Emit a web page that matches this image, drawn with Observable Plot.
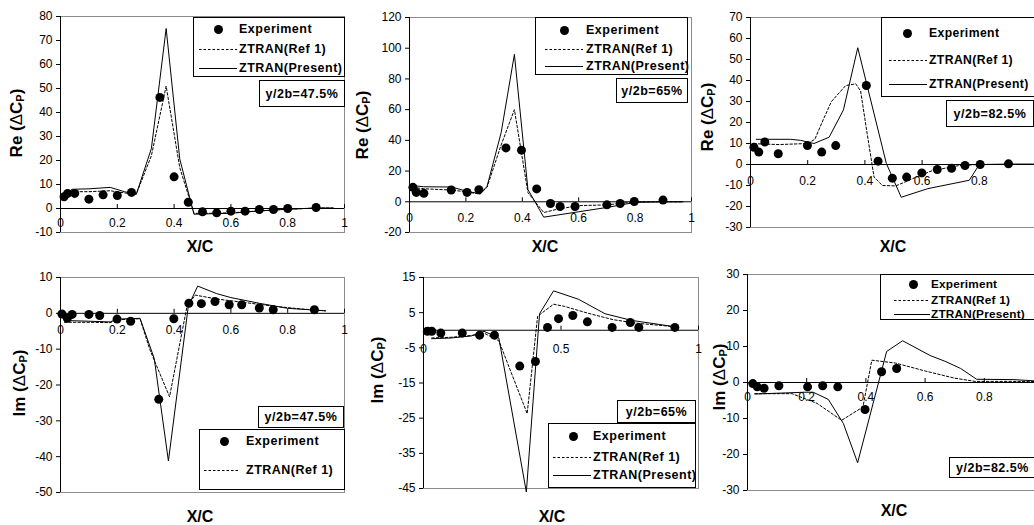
<!DOCTYPE html>
<html><head><meta charset="utf-8">
<script src="https://cdn.jsdelivr.net/npm/d3@7"></script>
<script src="https://cdn.jsdelivr.net/npm/@observablehq/plot@0.6"></script>
<style>
html,body{margin:0;padding:0;background:#fff;overflow:hidden}
#c{position:relative;width:1034px;height:525px;font-family:"Liberation Sans",Arial,sans-serif;color:#000;overflow:hidden}
.lab{position:absolute;font-weight:bold;font-size:16px;white-space:nowrap;transform:translate(-50%,-50%)}
.ylab{font-size:17px;transform:translate(-50%,-50%) rotate(-90deg)}
.box{position:absolute;border:1px solid #000;background:#fff;box-sizing:border-box}
.lt{position:absolute;font-weight:bold;font-size:12.5px;letter-spacing:0.5px;white-space:nowrap;transform:translateY(-50%);line-height:14px}
.bt{position:absolute;left:0;right:0;top:50%;transform:translateY(-50%);text-align:center;font-weight:bold;font-size:12.5px;letter-spacing:0.5px;white-space:nowrap;line-height:14px}
</style></head><body><div id="c"></div><script>
// ---------- data ----------
const seriesNames = ["Experiment", "ZTRAN(Ref 1)", "ZTRAN(Present)"];
const stationLabels = ["y/2b=47.5%", "y/2b=65%", "y/2b=82.5%"];
const xAxisTitle = "X/C";

// Panel 1: Re, y/2b=47.5%
const expX1 = [0.0125,0.025,0.05,0.1,0.15,0.2,0.25,0.35,0.4,0.45,0.5,0.55,0.6,0.65,0.7,0.75,0.8,0.9];
const expY1 = [4.9,6.3,6.3,3.9,5.7,5.4,6.7,46.3,13.2,2.6,-1.4,-1.8,-1.1,-1.1,-0.4,-0.4,0,0.4];
const presX1 = [0.01,0.04,0.1,0.175,0.225,0.267,0.32,0.372,0.42,0.47,0.525,0.6,0.7,0.8,0.9,0.96];
const presY1 = [5,8,8.2,8.8,7,6,25,75,20.6,-2.4,-2.2,-2,-1,-0.3,0.2,0.2];
const refX1 = [0.01,0.04,0.1,0.175,0.225,0.267,0.32,0.372,0.42,0.47,0.525,0.6,0.7,0.8,0.9,0.96];
const refY1 = [5,7,7,7.4,6.5,6,22,51,17,-2,-2,-1.8,-1,-0.3,0.2,0.2];

// Panel 2: Re, y/2b=65%
const expX2 = [0.012,0.024,0.051,0.148,0.204,0.246,0.342,0.397,0.451,0.5,0.534,0.587,0.7,0.747,0.797,0.899];
const expY2 = [9.4,6.1,5.5,7.7,6.1,7.9,35.1,33.6,8.4,-1.1,-3.1,-3.1,-2,-1.1,0.2,1.1];
const presX2 = [0.012,0.05,0.15,0.2,0.25,0.275,0.325,0.372,0.42,0.476,0.6,0.7,0.8,0.9,0.97];
const presY2 = [10.5,9.8,9.6,7,5.2,10,45,96,8,-10,-6.5,-3.7,-0.4,0,0];
const refX2 = [0.012,0.05,0.15,0.2,0.25,0.275,0.325,0.372,0.42,0.476,0.525,0.6,0.7,0.8,0.9,0.97];
const refY2 = [9.4,8.5,7.6,6.5,5,9.5,37,60,6,-7,-4.8,-2.5,-2,0,0,0];

// Panel 3: Re, y/2b=82.5%
const expX3 = [0.012,0.029,0.05,0.097,0.199,0.249,0.298,0.405,0.446,0.496,0.546,0.599,0.653,0.703,0.75,0.803,0.902];
const expY3 = [8.2,5.9,10.7,5.1,9.0,5.9,9.0,37.6,1.6,-6.5,-6.0,-4.0,-2.4,-1.8,-0.5,0,0.3];
const presX3 = [0.02,0.075,0.14,0.175,0.222,0.275,0.325,0.375,0.475,0.527,0.62,0.765,0.8,0.9,1];
const presY3 = [12,12,12,11.5,10,13,26,55.6,0.5,-15.6,-11.5,-7.5,0,0.2,0.2];
const refX3 = [0.012,0.1,0.2,0.225,0.25,0.283,0.333,0.368,0.385,0.408,0.432,0.461,0.508,0.566,0.636,0.729,0.8,0.9,1];
const refY3 = [9.9,9.5,10,12,20,30,37.6,38.4,35,14.6,-6,-10,-10.2,-6.8,-2.9,-0.5,0,0,0];

// Panel 4: Im, y/2b=47.5%
const expX4 = [0.005,0.024,0.041,0.1,0.138,0.199,0.247,0.346,0.399,0.452,0.496,0.544,0.594,0.638,0.7,0.749,0.894];
const expY4 = [-0.2,-1.4,-0.3,-0.3,-0.6,-1.6,-2.2,-24,-1.5,2.8,2.7,3.3,2.4,2.4,1.5,1.0,1.0];
const presX4 = [0.014,0.1,0.175,0.2,0.28,0.33,0.38,0.45,0.483,0.55,0.6,0.7,0.8,0.933];
const presY4 = [-2,-2.2,-2.4,-1.6,-1.4,-12.6,-41.2,2,7.6,5.5,4.4,2.8,1.4,0.7];
const refX4 = [0.014,0.1,0.175,0.2,0.28,0.315,0.384,0.445,0.474,0.55,0.65,0.75,0.85,0.933];
const refY4 = [-2.5,-2.5,-2.6,-1.8,-1.5,-10.2,-23.3,1.8,5.1,4,3,2,1.2,0.7];

// Panel 5: Im, y/2b=65%
const expX5 = [0.014,0.03,0.063,0.141,0.204,0.258,0.35,0.407,0.451,0.491,0.543,0.596,0.686,0.752,0.783,0.914];
const expY5 = [-0.3,-0.3,-0.8,-0.8,-1.4,-1.4,-10.2,-8.9,0.8,3.3,4.2,2.4,0.8,2.2,0.8,0.8];
const presX5 = [0.03,0.1,0.175,0.22,0.274,0.374,0.422,0.473,0.564,0.66,0.757,0.914];
const presY5 = [-2.4,-2.2,-1.6,-0.3,-2.2,-46,4.7,11.2,8.8,4.7,2.8,1];
const refX5 = [0.03,0.1,0.175,0.22,0.274,0.377,0.415,0.473,0.512,0.6,0.69,0.775,0.914];
const refY5 = [-2.2,-2,-1.5,-0.8,-3,-23.7,4,7.4,6.8,4.8,3.0,2.0,1];

// Panel 6: Im, y/2b=82.5%
const expX6 = [0.018,0.033,0.056,0.106,0.203,0.254,0.305,0.397,0.453,0.504];
const expY6 = [-0.3,-1.2,-1.6,-0.9,-1.2,-0.9,-1.2,-7.5,3.0,3.9];
const presX6 = [0.025,0.194,0.222,0.273,0.324,0.372,0.47,0.524,0.617,0.67,0.72,0.774,0.9,1];
const presY6 = [-3.2,-2.7,-2.7,-4.7,-11.4,-22.3,8.6,11.6,7.5,5.8,3.9,0.9,0.8,0.3];
const refX6 = [0.025,0.15,0.235,0.318,0.39,0.42,0.5,0.6,0.7,0.77,0.9,1];
const refY6 = [-3.1,-3.1,-5.8,-10.5,-6.8,6.2,5.4,3.2,1.2,0.3,0.3,0.3];

// axis ticks
const yTicks1 = [-10,0,10,20,30,40,50,60,70,80];
const yTicks2 = [-20,0,20,40,60,80,100,120];
const yTicks3 = [-30,-20,-10,0,10,20,30,40,50,60,70];
const yTicks4 = [-50,-40,-30,-20,-10,0,10];
const yTicks5 = [-45,-35,-25,-15,-5,5,15];
const yTicks6 = [-30,-20,-10,0,10,20,30];
const xTicksA = [0,0.2,0.4,0.6,0.8,1];
const xTickLabelsA = ["0","0.2","0.4","0.6","0.8","1"];
const xTicksB = [0,0.5,1];
const xTickLabelsB = ["0","0.5","1"];
const xTicksC = [0,0.2,0.4,0.6,0.8];
const xTickLabelsC = ["0","0.2","0.4","0.6","0.8"];

// ---------- layout (page pixels) ----------
const panels = [
  {part:"Re", station:0, frame:[60,16,344,232], yDomain:[-10,80], yTicks:yTicks1, xTicks:xTicksA, xLab:xTickLabelsA, xdy:15,
   exp:[expX1,expY1], ref:[refX1,refY1], pres:[presX1,presY1],
   ylab:[17,123], xlab:[200,247],
   legend:{box:[193,17,152,60], rows:[11,31,50], dot:24, line:[5,43], text:45, n:3},
   tag:[259,80,86,27]},
  {part:"Re", station:1, frame:[409,17,691,232], yDomain:[-20,120], yTicks:yTicks2, xTicks:xTicksA, xLab:xTickLabelsA, xdy:16,
   exp:[expX2,expY2], ref:[refX2,refY2], pres:[presX2,presY2],
   ylab:[363,125], xlab:[545,247],
   legend:{box:[535,17,153,58], rows:[12,31,48], dot:28, line:[9,47], text:50, n:3},
   tag:[616,78,72,25]},
  {part:"Re", station:2, frame:[750,17,1036,227], yDomain:[-30,70], yTicks:yTicks3, xTicks:xTicksC, xLab:xTickLabelsC, xdy:17,
   exp:[expX3,expY3], ref:[refX3,refY3], pres:[presX3,presY3],
   ylab:[708,117], xlab:[893,247],
   legend:{box:[881,17,156,80], rows:[15,42,66], dot:25, line:[7,45], text:47, n:3, font:"12.2px", ls:"0.4px"},
   tag:[946,100,88,27]},
  {part:"Im", station:0, frame:[60,277,344,492], yDomain:[-50,10], yTicks:yTicks4, xTicks:xTicksA, xLab:xTickLabelsA, xdy:17,
   exp:[expX4,expY4], ref:[refX4,refY4], pres:[presX4,presY4],
   ylab:[20,383], xlab:[200,517],
   legend:{box:[199,429,146,61], rows:[11,40], dot:24, line:[4,38], text:46, n:2},
   tag:[258,406,86,22]},
  {part:"Im", station:1, frame:[423,277,698,488], yDomain:[-45,15], yTicks:yTicks5, xTicks:xTicksB, xLab:xTickLabelsB, xdy:19,
   exp:[expX5,expY5], ref:[refX5,refY5], pres:[presX5,presY5],
   ylab:[378,370], xlab:[552,517],
   legend:{box:[548,423,148,65], rows:[12,33,51], dot:24, line:[4,42], text:44, n:3},
   tag:[617,400,79,23]},
  {part:"Im", station:2, frame:[747,274,1043,490], yDomain:[-30,30], yTicks:yTicks6, xTicks:xTicksC, xLab:xTickLabelsC, xdy:15,
   exp:[expX6,expY6], ref:[refX6,refY6], pres:[presX6,presY6],
   ylab:[720,377], xlab:[894,511],
   legend:{box:[880,274,156,46], rows:[9,25,39], dot:32, line:[13,49], text:50, n:3, font:"11.8px", ls:"0.2px"},
   tag:[949,457,87,21]}
];

const C = document.getElementById("c");
const rows = (xs, ys) => xs.map((x, i) => ({x, y: ys[i]}));

function drawPanel(p) {
  const mL = 45, mT = 6, mR = 6, mB = 26;
  const W = p.frame[2] - p.frame[0], H = p.frame[3] - p.frame[1];
  const svg = Plot.plot({
    width: W + mL + mR, height: H + mT + mB,
    marginLeft: mL, marginRight: mR, marginTop: mT, marginBottom: mB,
    x: {domain: [0, 1], axis: null},
    y: {domain: p.yDomain},
    style: {background: "transparent", overflow: "visible", fontFamily: "'Liberation Sans', Arial, sans-serif", fontSize: "12px", color: "#000"},
    marks: [
      Plot.frame({stroke: "#8c8c8c"}),
      Plot.ruleY([0], {stroke: "#000"}),
      Plot.ruleX([0], {stroke: "#000"}),
      Plot.ruleX(p.xTicks, {x: d => d, y1: 0, y2: 0, insetBottom: 4, stroke: "#000"}),
      Plot.axisY({ticks: p.yTicks, tickSize: 4, tickPadding: 4, tickFormat: d => String(d), fontSize: 12, label: null, stroke: "#000"}),
      Plot.text(p.xTicks, {x: d => d, y: 0, text: (d, i) => p.xLab[i], dy: p.xdy, fontSize: 12, fill: "#000"}),
      Plot.line(rows(p.ref[0], p.ref[1]), {x: "x", y: "y", stroke: "#000", strokeWidth: 1, strokeDasharray: "2.5,2"}),
      Plot.line(rows(p.pres[0], p.pres[1]), {x: "x", y: "y", stroke: "#000", strokeWidth: 1}),
      Plot.dot(rows(p.exp[0], p.exp[1]), {x: "x", y: "y", r: 4.5, fill: "#000", stroke: "none"})
    ]
  });
  svg.style.position = "absolute";
  svg.style.left = (p.frame[0] - mL) + "px";
  svg.style.top = (p.frame[1] - mT) + "px";
  C.appendChild(svg);
}

function el(tag, cls, css, html) {
  const e = document.createElement(tag);
  if (cls) e.className = cls;
  Object.assign(e.style, css || {});
  if (html != null) e.innerHTML = html;
  return e;
}

function drawText(p) {
  C.appendChild(el("div", "lab ylab", {left: p.ylab[0] + "px", top: p.ylab[1] + "px"},
    p.part + " (<span style=\"font-weight:normal\">&Delta;</span>C<sub style=\"font-size:11px;vertical-align:-2px\">P</sub>)"));
  C.appendChild(el("div", "lab", {left: p.xlab[0] + "px", top: p.xlab[1] + "px"}, xAxisTitle));
  // legend
  const L = p.legend;
  const box = el("div", "box", {left: L.box[0] + "px", top: L.box[1] + "px", width: L.box[2] + "px", height: L.box[3] + "px"});
  for (let k = 0; k < L.n; k++) {
    const y = L.rows[k];
    if (k === 0) {
      box.appendChild(el("div", null, {position: "absolute", left: (L.dot - 4.5) + "px", top: (y - 4.5) + "px", width: "9px", height: "9px", borderRadius: "50%", background: "#000"}));
    } else {
      const s = document.createElementNS("http://www.w3.org/2000/svg", "svg");
      s.setAttribute("width", L.line[1] - L.line[0]);
      s.setAttribute("height", 3);
      s.style.position = "absolute";
      s.style.left = L.line[0] + "px";
      s.style.top = (y - 1.5) + "px";
      const ln = document.createElementNS("http://www.w3.org/2000/svg", "line");
      ln.setAttribute("x1", 0); ln.setAttribute("x2", L.line[1] - L.line[0]);
      ln.setAttribute("y1", 1.5); ln.setAttribute("y2", 1.5);
      ln.setAttribute("stroke", "#000");
      if (k === 1) ln.setAttribute("stroke-dasharray", "2.5,2");
      s.appendChild(ln);
      box.appendChild(s);
    }
    const css = {left: L.text + "px", top: y + "px"};
    if (L.font) { css.fontSize = L.font; css.letterSpacing = L.ls; }
    box.appendChild(el("div", "lt", css, seriesNames[k]));
  }
  C.appendChild(box);
  const t = p.tag;
  const tag = el("div", "box", {left: t[0] + "px", top: t[1] + "px", width: t[2] + "px", height: t[3] + "px"});
  tag.appendChild(el("div", "bt", {}, stationLabels[p.station]));
  C.appendChild(tag);
}

panels.forEach(drawPanel);
panels.forEach(drawText);
</script></body></html>
